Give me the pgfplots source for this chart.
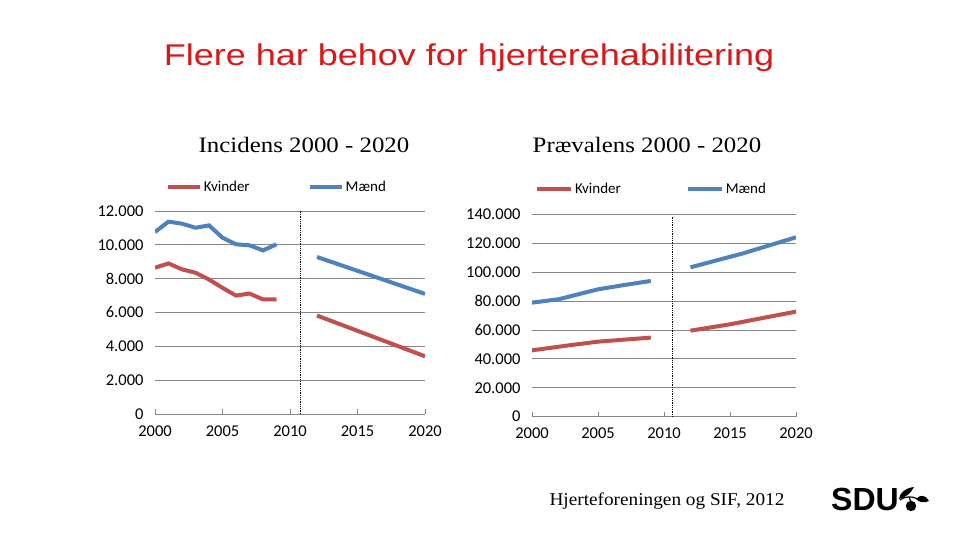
\documentclass[border=0pt]{standalone}
\usepackage{fontspec}
\usepackage{pgfplots}
\pgfplotsset{compat=1.18}
\setmainfont{Liberation Serif}
\newfontfamily\titlefont{Liberation Sans}
\newfontfamily\calfont{Carlito}
\definecolor{xred}{RGB}{192,80,77}
\definecolor{xblue}{RGB}{79,129,189}
\definecolor{titlered}{RGB}{215,25,25}
\definecolor{gridgray}{RGB}{134,134,134}
\pgfplotsset{
  slidechart/.style={
    scale only axis,
    axis x line*=bottom,
    axis y line*=left,
    y axis line style={draw=none},
    x axis line style={draw=gridgray, line width=0.8bp},
    ytick style={draw=none},
    xtick style={draw=gridgray, line width=0.8bp},
    tick align=inside,
    major tick length=5bp,
    ymajorgrids,
    grid style={draw=gridgray, line width=0.8bp},
    xmin=2000, xmax=2020,
    xtick={2000,2005,2010,2015,2020},
    scaled y ticks=false,
    /pgf/number format/assume math mode=true,
    ticklabel style={font=\calfont\fontsize{16.5bp}{19bp}\selectfont, text=black},
    xticklabel style={yshift=-8bp, /pgf/number format/1000 sep={}},
    yticklabel style={xshift=-8bp, /pgf/number format/1000 sep={.}, /pgf/number format/fixed},
    legend style={draw=none, fill=none, inner sep=0pt, legend columns=2,
      font=\calfont\fontsize{15bp}{18bp}\selectfont},
    legend cell align=left,
  }
}
\begin{document}
\begin{tikzpicture}
\begin{scope}[x=1bp,y=1bp]
\useasboundingbox (0,0) rectangle (960,540);
% title
\node[anchor=base, text=titlered, xscale=1.2, font=\titlefont\fontsize{30bp}{34bp}\selectfont] at (469,474) {Flere har behov for hjerterehabilitering};
\node[anchor=base, xscale=1.13, font=\fontsize{22bp}{26bp}\selectfont] at (304,387) {Incidens 2000 - 2020};
\node[anchor=base, xscale=1.13, font=\fontsize{22bp}{26bp}\selectfont] at (647,387) {Prævalens 2000 - 2020};
\node[anchor=base, xscale=1.07, font=\fontsize{18bp}{22bp}\selectfont] at (667,34) {Hjerteforeningen og SIF, 2012};
% SDU logo
\node[anchor=base west, inner sep=0pt, font=\titlefont\bfseries\fontsize{32bp}{36bp}\selectfont] at (831,29) {SDU};
\fill[black] (911,34) circle (5.2);
\draw[black, line width=1.2bp] (900,40) .. controls (905,44) and (912,44) .. (918,41);
\draw[black, line width=1.2bp] (909,43) -- (911,38);
\fill[black] (899,41) .. controls (900,48) and (906,52) .. (914,53) .. controls (911,47) and (905,42) .. (899,41) -- cycle;
\fill[black] (916,41) .. controls (920,46) and (926,45) .. (929,39) .. controls (925,37) and (919,37) .. (916,41) -- cycle;
\end{scope}

% left axis
\begin{axis}[slidechart, at={(155bp,126bp)}, anchor=south west,
  width=270bp, height=203bp,
  ymin=0, ymax=12000, ytick={0,2000,...,12000},
  legend image code/.code={\draw[#1, line width=4bp] (0bp,0bp) -- (32bp,0bp);},
  legend style={at={(0.04,1.118)}, anchor=west,
    /tikz/every even column/.append style={column sep=56bp}},
]
\addplot[xred, line width=4bp] coordinates {(2000,8650) (2001,8900) (2002,8550) (2003,8350) (2004,7950) (2005,7460) (2006,7000) (2007,7120) (2008,6770) (2009,6780)};
\addlegendentry{Kvinder}
\addplot[xblue, line width=4bp] coordinates {(2000,10760) (2001,11370) (2002,11250) (2003,11010) (2004,11150) (2005,10420) (2006,10030) (2007,9970) (2008,9670) (2009,10030)};
\addlegendentry{Mænd}
\addplot[xred, line width=4bp, forget plot] coordinates {(2012,5820) (2020,3410)};
\addplot[xblue, line width=4bp, forget plot] coordinates {(2012,9280) (2020,7100)};
\addplot[black, densely dotted, line width=0.8bp, forget plot] coordinates {(2010.8,0) (2010.8,12000)};
\end{axis}

% right axis
\begin{axis}[slidechart, at={(532bp,123.3bp)}, anchor=south west,
  width=264bp, height=202.4bp,
  ymin=0, ymax=140000, ytick={0,20000,...,140000},
  legend image code/.code={\draw[#1, line width=4bp] (0bp,0bp) -- (34bp,0bp);},
  legend style={at={(0.011,1.124)}, anchor=west,
    /tikz/every even column/.append style={column sep=63bp}},
]
\addplot[xred, line width=4bp] coordinates {(2000,45900) (2003,49600) (2005,51900) (2007,53300) (2009,54700)};
\addlegendentry{Kvinder}
\addplot[xblue, line width=4bp] coordinates {(2000,78900) (2002,81200) (2005,88100) (2007,91100) (2009,93900)};
\addlegendentry{Mænd}
\addplot[xred, line width=4bp, forget plot] coordinates {(2012,59500) (2015,63900) (2020,72700)};
\addplot[xblue, line width=4bp, forget plot] coordinates {(2012,103300) (2016,113000) (2020,124100)};
\addplot[black, densely dotted, line width=0.8bp, forget plot] coordinates {(2010.6,0) (2010.6,139000)};
\end{axis}
\end{tikzpicture}
\end{document}
